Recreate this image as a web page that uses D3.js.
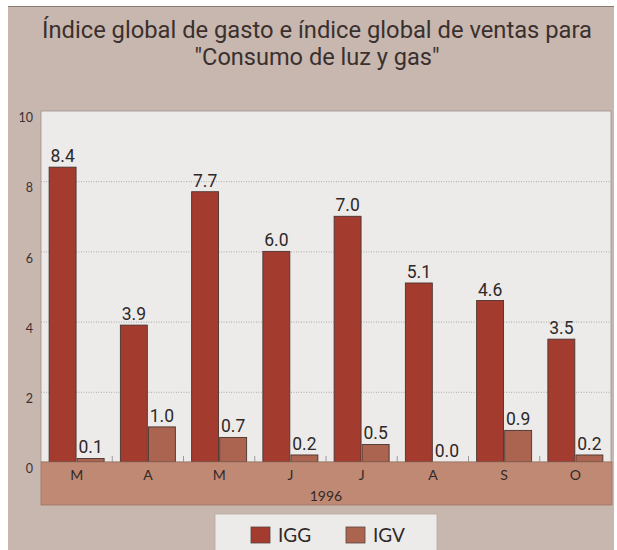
<!DOCTYPE html>
<html>
<head>
<meta charset="utf-8">
<script src="https://cdn.jsdelivr.net/npm/d3@7"></script>
<style>
  body { margin: 0; background: #fff; }
  svg { display: block; }
</style>
</head>
<body>
<svg id="chart" width="617" height="550"></svg>
<script>
const months = ["M", "A", "M", "J", "J", "A", "S", "O"];
const igg = [8.4, 3.9, 7.7, 6.0, 7.0, 5.1, 4.6, 3.5];
const igv = [0.1, 1.0, 0.7, 0.2, 0.5, 0.0, 0.9, 0.2];
const series = ["IGG", "IGV"];
const yTicks = [0, 2, 4, 6, 8, 10];
const year = "1996";
const titleLines = ["Índice global de gasto e índice global de ventas para", "\"Consumo de luz y gas\""];

const colors = { IGG: "#a43b2f", IGV: "#ab6450" };
const narrow = "Roboto, 'Liberation Sans', sans-serif";
const round = "Lato, 'DejaVu Sans', sans-serif";

const plotLeft = 41, plotRight = 611, plotTop = 111, zero = 462;

let svg = d3.select("#chart");

// paper background
svg.append("rect")
  .attr("x", 8).attr("y", 6)
  .attr("width", 606).attr("height", 550)
  .attr("fill", "#c8b7af");
svg.append("line")
  .attr("x1", 8).attr("x2", 614)
  .attr("y1", 6.5).attr("y2", 6.5)
  .attr("stroke", "#8a7a74").attr("stroke-width", 1.2);

// title
svg.append("g").selectAll("text")
  .data(titleLines)
  .enter().append("text")
  .attr("x", 317)
  .attr("y", (d, i) => 38 + i * 27)
  .attr("text-anchor", "middle")
  .attr("font-family", narrow)
  .attr("font-size", 23)
  .attr("fill", "#3a302e")
  .attr("textLength", (d, i) => i === 0 ? 550 : 245)
  .attr("lengthAdjust", "spacingAndGlyphs")
  .text(d => d);

let x = d3.scaleBand()
  .domain(d3.range(months.length))
  .range([plotLeft, plotRight])
  .paddingInner(0.228)
  .paddingOuter(0.114);

let xs = d3.scaleBand()
  .domain(series)
  .range([0, x.bandwidth()])
  .paddingInner(0.04);

let y = d3.scaleLinear()
  .domain([0, 10])
  .range([zero, plotTop]);

// plot area
svg.append("rect")
  .attr("x", plotLeft).attr("y", plotTop)
  .attr("width", plotRight - plotLeft).attr("height", zero - plotTop)
  .attr("fill", "#ecebea")
  .attr("stroke", "#9c918c").attr("stroke-width", 0.8);

// grid
svg.append("g")
  .attr("transform", `translate(${plotLeft},0)`)
  .call(d3.axisLeft(y).tickValues(yTicks.filter(d => d > 0 && d < 10)).tickSize(-(plotRight - plotLeft)).tickFormat(""))
  .call(g => g.select(".domain").remove())
  .selectAll("line")
  .attr("stroke", "#9a9a9a")
  .attr("stroke-width", 0.8)
  .attr("stroke-dasharray", "1,1.5");

// y labels
svg.append("g")
  .attr("transform", `translate(${plotLeft},0)`)
  .call(d3.axisLeft(y).tickValues(yTicks).tickSize(0).tickPadding(8))
  .call(g => g.select(".domain").remove())
  .selectAll("text")
  .attr("dy", "0.85em")
  .attr("font-family", round)
  .attr("font-size", 12.5)
  .attr("fill", "#3a3030");

// bars
let rows = months.map((m, i) => ({ i, IGG: igg[i], IGV: igv[i] }));
let group = svg.append("g").selectAll("g")
  .data(rows)
  .enter().append("g")
  .attr("transform", d => `translate(${x(d.i)},0)`);

group.selectAll("rect")
  .data(d => series.map(s => ({ key: s, value: d[s] })))
  .enter().append("rect")
  .attr("x", d => xs(d.key))
  .attr("width", xs.bandwidth())
  .attr("y", d => y(d.value))
  .attr("height", d => zero - y(d.value))
  .attr("fill", d => colors[d.key])
  .attr("stroke", "#4a3430")
  .attr("stroke-width", 0.9);

group.selectAll("text")
  .data(d => series.map(s => ({ key: s, value: d[s] })))
  .enter().append("text")
  .attr("x", d => xs(d.key) + xs.bandwidth() / 2)
  .attr("y", d => y(d.value) - 5)
  .attr("text-anchor", "middle")
  .attr("font-family", narrow)
  .attr("font-size", 17.5)
  .attr("fill", "#2e2828")
  .text(d => d.value.toFixed(1));

// small separators on the zero line
svg.append("g").selectAll("line")
  .data(d3.range(1, months.length))
  .enter().append("line")
  .attr("x1", d => x(d) - x.step() * x.paddingInner() / 2)
  .attr("x2", d => x(d) - x.step() * x.paddingInner() / 2)
  .attr("y1", zero).attr("y2", zero - 6)
  .attr("stroke", "#9a9a9a");

// month band
svg.append("rect")
  .attr("x", plotLeft).attr("y", zero)
  .attr("width", plotRight + 1 - plotLeft).attr("height", 43)
  .attr("fill", "#bf8974")
  .attr("stroke", "#9f7466").attr("stroke-width", 0.8);

svg.append("g")
  .attr("transform", `translate(0,${zero})`)
  .call(d3.axisBottom(x).tickSize(0).tickPadding(8).tickFormat(i => months[i]))
  .call(g => g.select(".domain").remove())
  .selectAll("text")
  .attr("font-family", round)
  .attr("font-size", 14)
  .attr("fill", "#332a28");

svg.append("text")
  .attr("x", (plotLeft + plotRight) / 2)
  .attr("y", 501)
  .attr("text-anchor", "middle")
  .attr("font-family", round)
  .attr("font-size", 14)
  .attr("fill", "#332a28")
  .text(year);

// legend
svg.append("rect")
  .attr("x", 215).attr("y", 514)
  .attr("width", 222).attr("height", 40)
  .attr("fill", "#ecebea")
  .attr("stroke", "#b8aaa4").attr("stroke-width", 0.8);

let legend = svg.append("g").selectAll("g")
  .data(series)
  .enter().append("g")
  .attr("transform", (d, i) => `translate(${251 + i * 95},527)`);

legend.append("rect")
  .attr("width", 19).attr("height", 16)
  .attr("fill", d => colors[d])
  .attr("stroke", "#5a4440").attr("stroke-width", 0.8);

legend.append("text")
  .attr("x", 27).attr("y", 14.5)
  .attr("font-family", round)
  .attr("font-size", 19)
  .attr("fill", "#2e2828")
  .text(d => d);
</script>
</body>
</html>
